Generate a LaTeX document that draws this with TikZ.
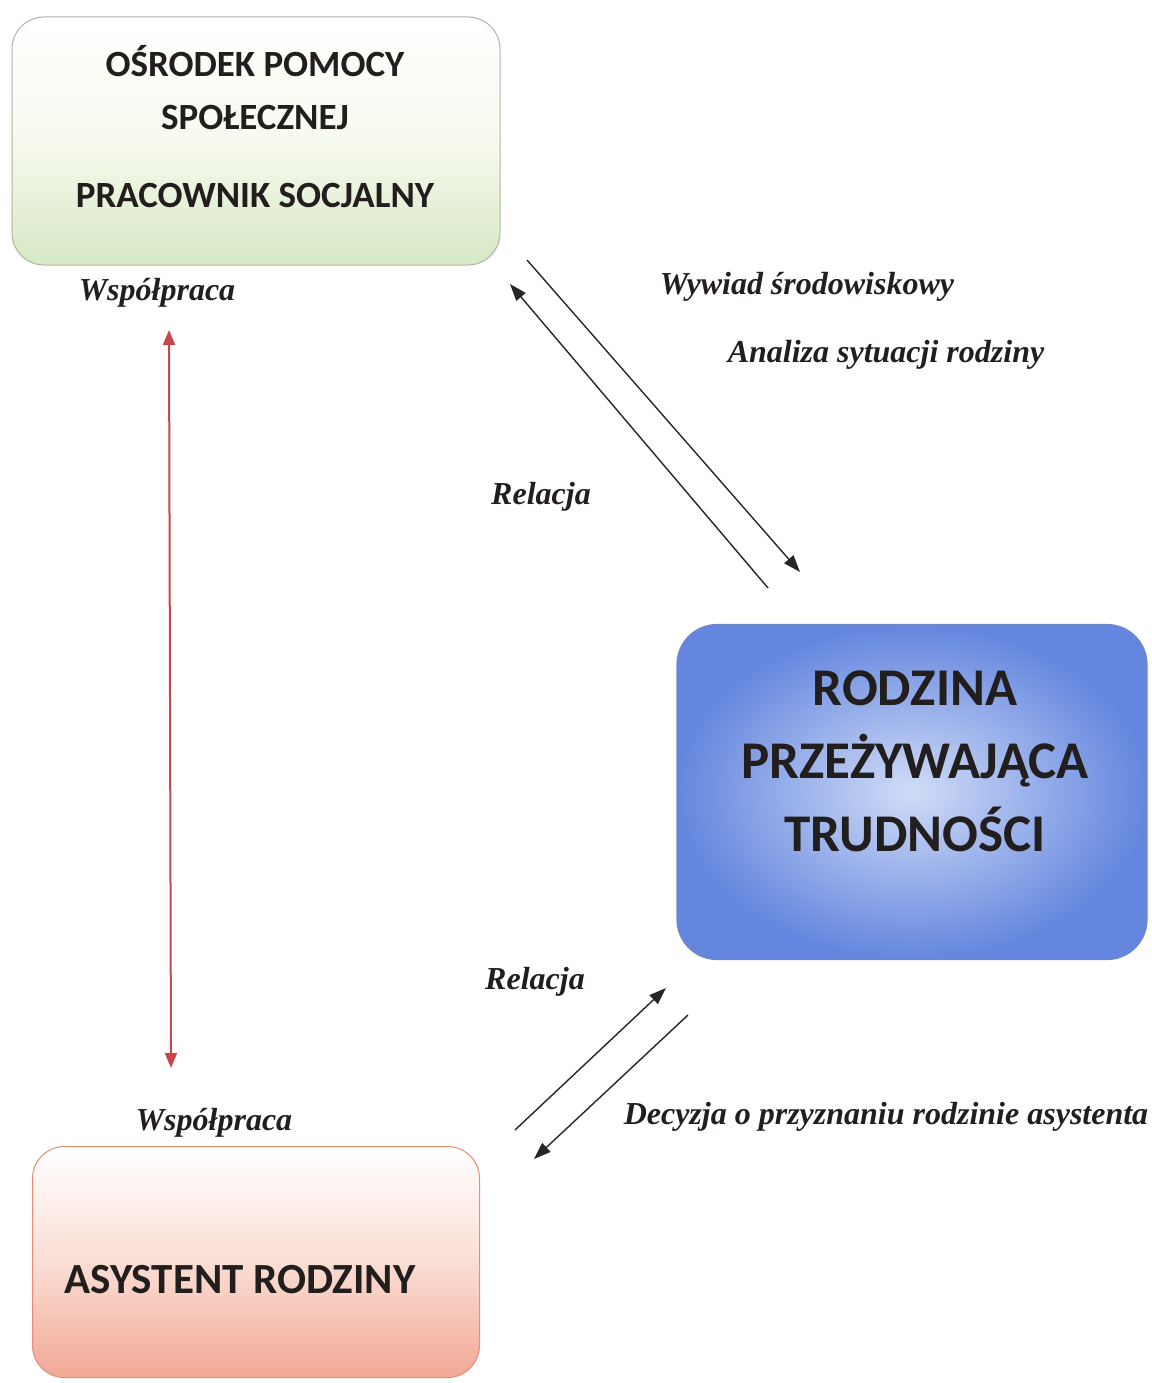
\documentclass[tikz,border=0pt]{standalone}
\usepackage{fontspec}
\setmainfont{Liberation Serif}
\newfontfamily\boxfont{Carlito}
\usetikzlibrary{arrows.meta}
\definecolor{greenbot}{RGB}{214,232,196}
\definecolor{greenmid}{RGB}{246,250,238}
\definecolor{greenedge}{RGB}{175,180,165}
\definecolor{blueout}{RGB}{100,134,222}
\definecolor{bluein}{RGB}{208,220,247}
\definecolor{blueedge}{RGB}{110,135,200}
\definecolor{redbot}{RGB}{242,168,148}
\definecolor{redmid}{RGB}{250,222,212}
\definecolor{rededge}{RGB}{230,140,120}
\definecolor{coopred}{RGB}{200,70,75}
\definecolor{txt}{RGB}{35,30,30}
\begin{document}
\begin{tikzpicture}[x=1pt,y=-1pt,
  boxtext/.style={font=\boxfont\bfseries, text=txt, align=center, inner sep=0pt},
  lbl/.style={font=\fontsize{32}{36}\selectfont\bfseries\itshape, text=txt, inner sep=0pt},
  conn/.style={draw=black!85, line width=1.4pt, -{Triangle[length=17pt,width=12pt]}},
  coop/.style={draw=coopred, line width=2pt, {Triangle[length=15pt,width=12pt]}-{Triangle[length=15pt,width=12pt]}},
  roundbox/.style={rounded corners=32pt, inner sep=0pt}
]
\useasboundingbox (0,0) rectangle (1151,1383);

% boxes
\node[roundbox, draw=greenedge, line width=1pt, minimum width=488pt, minimum height=248pt,
      top color=white, bottom color=greenbot, middle color=greenmid] (osp) at (256,141) {};
\node[boxtext, font=\boxfont\bfseries\fontsize{37}{44}\selectfont] (ospt) at (255,127)
  {OŚRODEK POMOCY\\[9pt]SPOŁECZNEJ\\[34pt]PRACOWNIK SOCJALNY};

\node[roundbox, rounded corners=40pt, draw=blueedge, line width=1.2pt, minimum width=470pt, minimum height=335pt,
      inner color=bluein, outer color=blueout] (rodz) at (912,792) {};
\node[boxtext, font=\boxfont\bfseries\fontsize{53}{73}\selectfont] (rodzt) at (915,761)
  {RODZINA\\PRZEŻYWAJĄCA\\TRUDNOŚCI};

\node[roundbox, draw=rededge, line width=1pt, minimum width=447pt, minimum height=231pt,
      top color=white, bottom color=redbot, middle color=redmid] (asys) at (256,1262) {};
\node[boxtext, font=\boxfont\bfseries\fontsize{43}{50}\selectfont] (asyst) at (240,1280)
  {ASYSTENT RODZINY};

% labels
\node[lbl] (wsp1) at (157,293) {Współpraca};
\node[lbl] (wyw) at (807,287) {Wywiad środowiskowy};
\node[lbl] (ana) at (886,355) {Analiza sytuacji rodziny};
\node[lbl] (rel1) at (541,497) {Relacja};
\node[lbl] (rel2) at (535,982) {Relacja};
\node[lbl] (wsp2) at (214,1123) {Współpraca};
\node[lbl] (dec) at (886,1117) {Decyzja o przyznaniu rodzinie asystenta};

% connector end points
\coordinate (a1s) at (527,260);
\coordinate (a1e) at (800,572);
\coordinate (a2s) at (768,588);
\coordinate (a2e) at (510,284);
\coordinate (b1s) at (515,1130);
\coordinate (b1e) at (666,988);
\coordinate (b2s) at (688,1015);
\coordinate (b2e) at (534,1159);
\coordinate (c1) at (169,330);
\coordinate (c2) at (171,1068);

\draw[conn] (a1s) -- (a1e);
\draw[conn] (a2s) -- (a2e);
\draw[conn] (b1s) -- (b1e);
\draw[conn] (b2s) -- (b2e);
\draw[coop] (c1) -- (c2);
\end{tikzpicture}
\end{document}
